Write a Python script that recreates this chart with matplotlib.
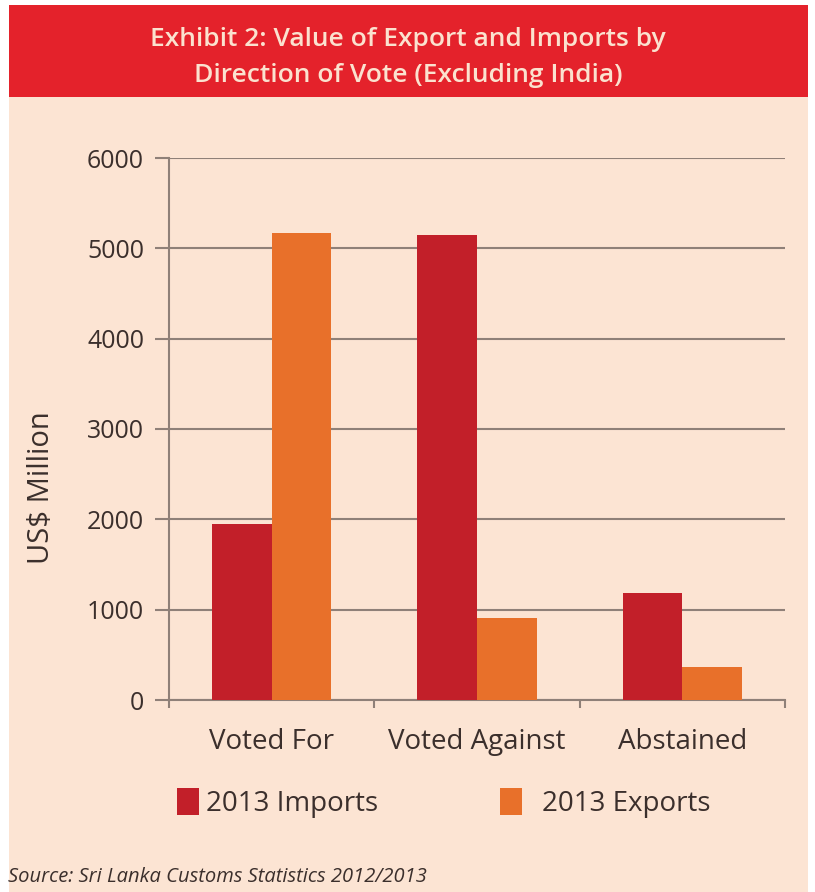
import matplotlib.pyplot as plt
from matplotlib.patches import Rectangle, Patch
import numpy as np

categories = ['Voted For', 'Voted Against', 'Abstained']
imports_2013 = [1950, 5150, 1190]
exports_2013 = [5170, 910, 367]
yticks = [0, 1000, 2000, 3000, 4000, 5000, 6000]

RED = '#C21F29'
ORANGE = '#E8702A'
BAND = '#E4222B'
BG = '#FCE4D3'
TXT = '#3b2f2c'
GRID = '#8f8078'

plt.rcParams['font.family'] = ['Open Sans', 'DejaVu Sans']

W, H = 815, 892
fig = plt.figure(figsize=(W / 100, H / 100), dpi=100)
fig.patch.set_facecolor('white')

# fond peche + bandeau rouge du titre (derriere les axes)
fig.patches.append(Rectangle((9 / W, 0), (808 - 9) / W, 1 - 5 / H,
                             transform=fig.transFigure, facecolor=BG, edgecolor='none', zorder=-3))
fig.patches.append(Rectangle((9 / W, 1 - 97 / H), (808 - 9) / W, (97 - 5) / H,
                             transform=fig.transFigure, facecolor=BAND, edgecolor='none', zorder=-2))
fig.text(408 / W, 1 - 40 / H, 'Exhibit 2: Value of Export and Imports by',
         ha='center', va='center', color='#FBE2CF', fontsize=19, weight='semibold')
fig.text(408 / W, 1 - 75 / H, 'Direction of Vote (Excluding India)',
         ha='center', va='center', color='#FBE2CF', fontsize=19, weight='semibold')

ax = fig.add_axes([169 / W, 192 / H, (785 - 169) / W, (700 - 158) / H])
ax.set_facecolor('none')

x = np.arange(len(categories))
bw = 0.29
ax.bar(x - bw / 2, imports_2013, bw, color=RED, zorder=3)
ax.bar(x + bw / 2, exports_2013, bw, color=ORANGE, zorder=3)

ax.set_xlim(-0.5, len(categories) - 0.5)
ax.set_ylim(0, 6000)
ax.set_yticks(yticks)
ax.set_yticklabels([str(v) for v in yticks], fontsize=18, color=TXT)
ax.grid(axis='y', color=GRID, linewidth=1.5, zorder=1)
ax.tick_params(axis='y', length=10, width=1.5, color=GRID, pad=8)

# graduations de l'axe x aux limites des categories
ax.set_xticks(np.arange(-0.5, len(categories)))
ax.set_xticklabels([])
ax.tick_params(axis='x', length=6, width=1.5, color=GRID, direction='out')
for i, c in enumerate(categories):
    ax.text(i, -460, c, ha='center', va='center', fontsize=20, color=TXT)

for s in ['top', 'right']:
    ax.spines[s].set_visible(False)
for s in ['left', 'bottom']:
    ax.spines[s].set_color(GRID)
    ax.spines[s].set_linewidth(1.5)

fig.text(42 / W, 1 - 488 / H, 'US$ Million', rotation=90, ha='center', va='center',
         fontsize=21, color=TXT)

# deux legendes separees pour garder l'espacement de l'original
leg1 = fig.legend([Patch(facecolor=RED)], ['2013 Imports'], loc='center left',
                  bbox_to_anchor=(177 / W, 1 - 803 / H), frameon=False,
                  borderpad=0, borderaxespad=0, fontsize=20, handlelength=0.8,
                  handleheight=1.1, handletextpad=0.25, labelcolor=TXT)
fig.legend([Patch(facecolor=ORANGE)], ['2013 Exports'], loc='center left',
           bbox_to_anchor=(500 / W, 1 - 803 / H), frameon=False,
           borderpad=0, borderaxespad=0, fontsize=20, handlelength=0.8,
           handleheight=1.1, handletextpad=0.7, labelcolor=TXT)

fig.text(8 / W, 1 - 877 / H, 'Source: Sri Lanka Customs Statistics 2012/2013',
         ha='left', va='center', fontsize=14.5, style='italic', color=TXT)

fig.savefig('out.png', dpi=100)
